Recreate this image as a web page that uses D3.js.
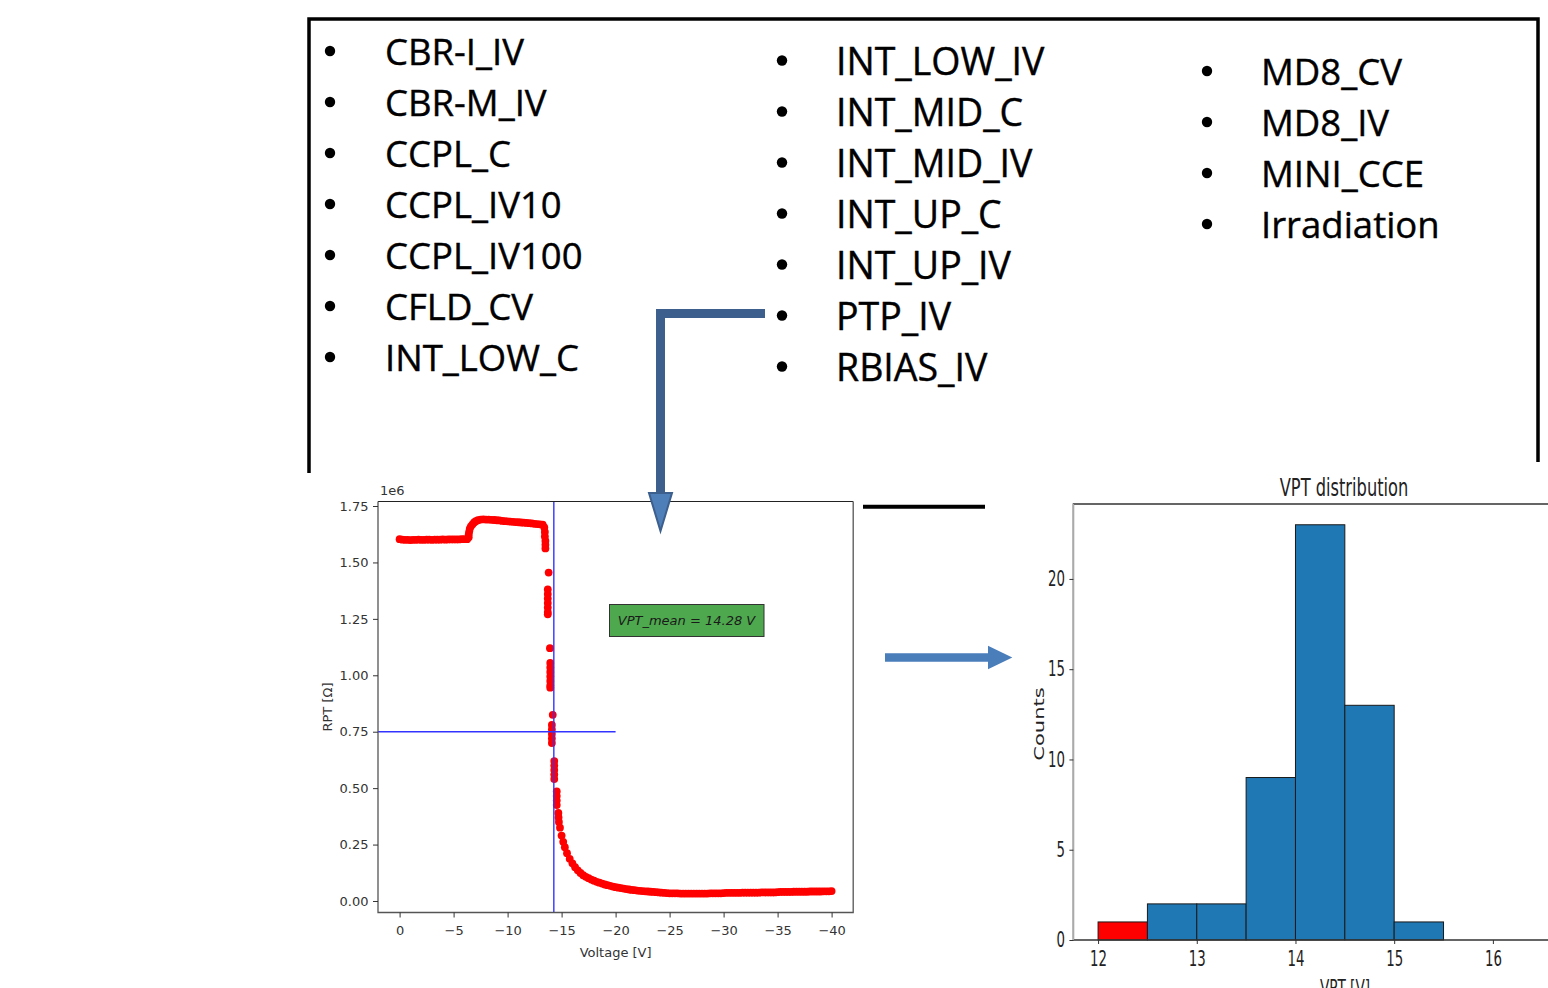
<!DOCTYPE html>
<html>
<head>
<meta charset="utf-8">
<script src="https://cdn.jsdelivr.net/npm/d3@7"></script>
<style>
  body { margin: 0; background: #fff; }
  svg { display: block; }
</style>
</head>
<body>
<svg id="slide" width="1548" height="988"></svg>
<script>
// test structures listed on the slide
const colLeft = ['CBR-I_IV', 'CBR-M_IV', 'CCPL_C', 'CCPL_IV10', 'CCPL_IV100', 'CFLD_CV', 'INT_LOW_C'];
const colMid = ['INT_LOW_IV', 'INT_MID_C', 'INT_MID_IV', 'INT_UP_C', 'INT_UP_IV', 'PTP_IV', 'RBIAS_IV'];
const colRight = ['MD8_CV', 'MD8_IV', 'MINI_CCE', 'Irradiation'];

// PTP_IV curve : [voltage V, RPT in 1e6 ohm]
const rptPoints = [
  [0, 1.603], [-0.25, 1.601], [-0.5, 1.600], [-0.75, 1.600], [-1, 1.599], [-1.25, 1.600], [-1.5, 1.600], [-1.75, 1.601],
  [-2, 1.600], [-2.25, 1.600], [-2.5, 1.601], [-2.75, 1.601], [-3, 1.600], [-3.25, 1.601], [-3.5, 1.601], [-3.75, 1.601],
  [-4, 1.602], [-4.25, 1.601], [-4.5, 1.602], [-4.75, 1.602], [-5, 1.602], [-5.25, 1.602], [-5.5, 1.602], [-5.75, 1.603],
  [-6, 1.603], [-6.25, 1.603],
  [-6.4, 1.612], [-6.4, 1.625], [-6.45, 1.638], [-6.5, 1.650], [-6.6, 1.660], [-6.75, 1.669], [-6.9, 1.677], [-7.05, 1.683],
  [-7.25, 1.687], [-7.5, 1.690], [-7.75, 1.691], [-8, 1.690],
  [-8.25, 1.690], [-8.5, 1.689], [-8.75, 1.688], [-9, 1.687], [-9.25, 1.686], [-9.5, 1.684], [-9.75, 1.683], [-10, 1.682],
  [-10.25, 1.681], [-10.5, 1.680], [-10.75, 1.679], [-11, 1.678], [-11.25, 1.677], [-11.5, 1.676], [-11.75, 1.675], [-12, 1.674],
  [-12.25, 1.673], [-12.5, 1.671], [-12.75, 1.670], [-13, 1.669], [-13.25, 1.667],
  [-13.4, 1.655], [-13.45, 1.635], [-13.45, 1.615], [-13.5, 1.595], [-13.5, 1.578], [-13.5, 1.562],
  [-13.8, 1.455],
  [-13.72, 1.38], [-13.72, 1.36], [-13.72, 1.34], [-13.72, 1.32], [-13.72, 1.30], [-13.72, 1.28], [-13.72, 1.27],
  [-13.92, 1.12],
  [-13.95, 1.055], [-13.95, 1.035], [-13.95, 1.015], [-13.95, 0.995], [-13.95, 0.975], [-13.95, 0.955], [-13.95, 0.945],
  [-14.18, 0.825],
  [-14.1, 0.78], [-14.1, 0.76], [-14.1, 0.74], [-14.1, 0.72], [-14.1, 0.70],
  [-14.32, 0.62], [-14.32, 0.60], [-14.32, 0.58], [-14.32, 0.56], [-14.32, 0.54],
  [-14.55, 0.485], [-14.55, 0.465], [-14.55, 0.445], [-14.55, 0.425],
  [-14.7, 0.39], [-14.72, 0.37], [-14.75, 0.35],
  [-14.85, 0.325], [-15, 0.29], [-15.15, 0.262], [-15.3, 0.238], [-15.5, 0.212], [-15.75, 0.187], [-16, 0.167], [-16.25, 0.150],
  [-16.5, 0.136], [-16.75, 0.124], [-17, 0.114], [-17.25, 0.107], [-17.5, 0.101], [-17.75, 0.095], [-18, 0.090], [-18.25, 0.085],
  [-18.5, 0.081], [-18.75, 0.077], [-19, 0.073], [-19.25, 0.070], [-19.5, 0.067], [-19.75, 0.064], [-20, 0.061], [-20.25, 0.059],
  [-20.5, 0.057], [-20.75, 0.055], [-21, 0.053], [-21.25, 0.051], [-21.5, 0.049], [-21.75, 0.048], [-22, 0.046], [-22.25, 0.045],
  [-22.5, 0.044], [-22.75, 0.043], [-23, 0.042], [-23.25, 0.041], [-23.5, 0.040], [-23.75, 0.039], [-24, 0.038], [-24.25, 0.037],
  [-24.5, 0.036], [-24.75, 0.035], [-25, 0.034], [-25.25, 0.034], [-25.5, 0.034], [-25.75, 0.034], [-26, 0.033], [-26.25, 0.033],
  [-26.5, 0.033], [-26.75, 0.033], [-27, 0.033], [-27.25, 0.033], [-27.5, 0.033], [-27.75, 0.033], [-28, 0.033], [-28.25, 0.033],
  [-28.5, 0.033], [-28.75, 0.034], [-29, 0.034], [-29.25, 0.034], [-29.5, 0.034], [-29.75, 0.034], [-30, 0.035], [-30.25, 0.036],
  [-30.5, 0.036], [-30.75, 0.036], [-31, 0.036], [-31.25, 0.036], [-31.5, 0.036], [-31.75, 0.037], [-32, 0.037], [-32.25, 0.037],
  [-32.5, 0.037], [-32.75, 0.037], [-33, 0.037], [-33.25, 0.037], [-33.5, 0.038], [-33.75, 0.038], [-34, 0.038], [-34.25, 0.038],
  [-34.5, 0.038], [-34.75, 0.038], [-35, 0.039], [-35.25, 0.040], [-35.5, 0.040], [-35.75, 0.040], [-36, 0.040], [-36.25, 0.040],
  [-36.5, 0.041], [-36.75, 0.041], [-37, 0.041], [-37.25, 0.041], [-37.5, 0.041], [-37.75, 0.041], [-38, 0.042], [-38.25, 0.042],
  [-38.5, 0.042], [-38.75, 0.042], [-39, 0.042], [-39.25, 0.043], [-39.5, 0.043], [-39.75, 0.043], [-40, 0.044]
];
const vptMean = -14.28;     // vertical marker
const rptMarker = 0.75;     // horizontal marker (1e6 ohm)
const rptMarkerEnd = -20;   // horizontal marker stops here
const voltTicks = [0, -5, -10, -15, -20, -25, -30, -35, -40];
const rptTicks = [0, 0.25, 0.5, 0.75, 1.0, 1.25, 1.5, 1.75];

// VPT histogram
const binEdges = [12, 12.5, 13, 13.5, 14, 14.5, 15, 15.5];
const binCounts = [1, 2, 2, 9, 23, 13, 1];
const vptLowLimit = 12.5;   // bins below this are flagged
const vptTicks = [12, 13, 14, 15, 16];
const countTicks = [0, 5, 10, 15, 20];

var svg = d3.select('#slide');
svg.append('rect').attr('width', 1548).attr('height', 988).attr('fill', '#fff');

///////////////////////////////////////////////////////////////
// box with the list
svg.append('path')
  .attr('d', 'M309,473 V19 H1538 V462')
  .attr('fill', 'none')
  .attr('stroke', '#000')
  .attr('stroke-width', 3.5);

var listCols = [
  { items: colLeft, bx: 330, tx: 385, base: 65, size: 36.5 },
  { items: colMid, bx: 782, tx: 836, base: 74.5, size: 37.5 },
  { items: colRight, bx: 1207, tx: 1261, base: 85, size: 36.5 }
];
var lineStep = 51;

listCols.forEach(function(c) {
  var g = svg.append('g');
  g.selectAll('circle')
    .data(c.items)
    .join('circle')
      .attr('cx', c.bx)
      .attr('cy', (d, i) => c.base + i * lineStep - 14)
      .attr('r', 5.2)
      .attr('fill', '#000');
  g.selectAll('text')
    .data(c.items)
    .join('text')
      .attr('x', c.tx)
      .attr('y', (d, i) => c.base + i * lineStep)
      .style('font-family', '"Open Sans", sans-serif')
      .style('font-size', c.size + 'px')
      .attr('fill', '#000')
      .attr('stroke', '#000')
      .attr('stroke-width', 0.4)
      .text(d => d);
});

///////////////////////////////////////////////////////////////
// RPT vs voltage
var sc = { left: 378, right: 853.2, top: 501.5, bottom: 912.5 };
var x = d3.scaleLinear().domain([2, -42]).range([sc.left, sc.right]);
var y = d3.scaleLinear().domain([-0.051, 1.770]).range([sc.bottom, sc.top]);
var smallFont = '"DejaVu Sans", sans-serif';

svg.append('rect')
  .attr('x', sc.left).attr('y', sc.top)
  .attr('width', sc.right - sc.left).attr('height', sc.bottom - sc.top)
  .attr('fill', '#fff');

svg.append('g')
  .selectAll('circle')
  .data(rptPoints)
  .join('circle')
    .attr('cx', d => x(d[0]))
    .attr('cy', d => y(d[1]))
    .attr('r', 3.9)
    .attr('fill', 'red');

// markers
svg.append('line')
  .attr('x1', x(vptMean)).attr('x2', x(vptMean))
  .attr('y1', sc.top).attr('y2', sc.bottom)
  .attr('stroke', '#3333ff').attr('stroke-width', 1.4);
svg.append('line')
  .attr('x1', sc.left).attr('x2', x(rptMarkerEnd))
  .attr('y1', y(rptMarker)).attr('y2', y(rptMarker))
  .attr('stroke', '#3333ff').attr('stroke-width', 1.4);

// frame
svg.append('path')
  .attr('d', `M${sc.left},${sc.top} H${sc.right}`)
  .attr('stroke', '#222').attr('stroke-width', 1.2);
svg.append('path')
  .attr('d', `M${sc.left},${sc.top} V${sc.bottom} H${sc.right} V${sc.top}`)
  .attr('fill', 'none').attr('stroke', '#555').attr('stroke-width', 1.3);

var xAx = svg.append('g')
  .attr('transform', 'translate(0,' + sc.bottom + ')')
  .call(d3.axisBottom(x).tickValues(voltTicks).tickSize(5).tickPadding(8).tickSizeOuter(0));
var yAx = svg.append('g')
  .attr('transform', 'translate(' + sc.left + ',0)')
  .call(d3.axisLeft(y).tickValues(rptTicks).tickFormat(d3.format('.2f')).tickSize(5).tickPadding(4.5).tickSizeOuter(0));
[xAx, yAx].forEach(function(a) {
  a.select('.domain').remove();
  a.selectAll('line').attr('stroke', '#333');
  a.selectAll('text')
    .style('font-family', smallFont)
    .style('font-size', '13px')
    .attr('fill', '#333');
});

svg.append('text')
  .attr('x', 380).attr('y', 495)
  .style('font-family', smallFont).style('font-size', '13px')
  .attr('fill', '#333')
  .text('1e6');

svg.append('text')
  .attr('x', (sc.left + sc.right) / 2).attr('y', 957)
  .attr('text-anchor', 'middle')
  .style('font-family', smallFont).style('font-size', '13px')
  .attr('fill', '#333')
  .text('Voltage [V]');

svg.append('text')
  .attr('transform', 'translate(332,' + ((sc.top + sc.bottom) / 2) + ') rotate(-90)')
  .attr('text-anchor', 'middle')
  .style('font-family', smallFont).style('font-size', '13px')
  .attr('fill', '#333')
  .text('RPT [\u03a9]');

// mean label
var lbl = svg.append('g').attr('transform', 'translate(609.5,604.5)');
lbl.append('rect')
  .attr('width', 154.5).attr('height', 32)
  .attr('fill', '#4ea84e').attr('stroke', '#333').attr('stroke-width', 1);
lbl.append('text')
  .attr('x', 77).attr('y', 20.5)
  .attr('text-anchor', 'middle')
  .style('font-family', smallFont).style('font-size', '13px').style('font-style', 'italic')
  .attr('fill', '#1a1a1a')
  .text('VPT_mean = ' + Math.abs(vptMean).toFixed(2) + ' V');

///////////////////////////////////////////////////////////////
// arrows
svg.append('path')
  .attr('d', 'M765,313.5 H660.5 V494')
  .attr('fill', 'none')
  .attr('stroke', '#3c5f8e')
  .attr('stroke-width', 9);
svg.append('path')
  .attr('d', 'M649,493 L672,493 L660.5,531 Z')
  .attr('fill', '#4f7fb8')
  .attr('stroke', '#3c5f8e')
  .attr('stroke-width', 2);

svg.append('path')
  .attr('d', 'M885,653.3 H988 V645.7 L1012.3,657.5 L988,669.3 V661.7 H885 Z')
  .attr('fill', '#4a7ebb');

svg.append('line')
  .attr('x1', 863).attr('x2', 985)
  .attr('y1', 506.7).attr('y2', 506.7)
  .attr('stroke', '#000').attr('stroke-width', 4);

///////////////////////////////////////////////////////////////
// histogram (image was squeezed horizontally on the slide)
var SQ = 0.65;
var hLeft = 1073.4, hTop = 504, hBottom = 940;
var hx = d3.scaleLinear().domain([11.75, 16.75]).range([hLeft, hLeft + 5 * 98.7]);
var hy = d3.scaleLinear().domain([0, 24.15]).range([hBottom, hTop]);
var bins = binCounts.map((c, i) => ({ x0: binEdges[i], x1: binEdges[i + 1], count: c }));

svg.append('g')
  .selectAll('rect')
  .data(bins)
  .join('rect')
    .attr('x', d => hx(d.x0))
    .attr('y', d => hy(d.count))
    .attr('width', d => hx(d.x1) - hx(d.x0))
    .attr('height', d => hy(0) - hy(d.count))
    .attr('fill', d => d.x1 <= vptLowLimit ? '#ff0000' : '#1f77b4')
    .attr('stroke', '#1a1a1a')
    .attr('stroke-width', 1);

svg.append('path')
  .attr('d', `M1548,${hTop} H${hLeft} V${hBottom} H1548`)
  .attr('fill', 'none').attr('stroke', '#333').attr('stroke-width', 1.4);
svg.append('path')
  .attr('d', `M${hLeft},${hTop} V${hBottom}`)
  .attr('stroke', '#aaa').attr('stroke-width', 1.4);

var hxAx = svg.append('g')
  .attr('transform', 'translate(0,' + hBottom + ')')
  .call(d3.axisBottom(hx).tickValues(vptTicks).tickFormat(d3.format('d')).tickSize(4).tickPadding(7).tickSizeOuter(0));
var hyAx = svg.append('g')
  .attr('transform', 'translate(' + hLeft + ',0)')
  .call(d3.axisLeft(hy).tickValues(countTicks).tickFormat(d3.format('d')).tickSize(4).tickSizeOuter(0));
[hxAx, hyAx].forEach(function(a) {
  a.select('.domain').remove();
  a.selectAll('line').attr('stroke', '#333');
  a.selectAll('text')
    .style('font-family', smallFont)
    .style('font-size', '20.5px')
    .attr('fill', '#222')
    .attr('transform', 'scale(' + SQ + ',1)');
});
hyAx.selectAll('text').attr('x', -8.5 / SQ);

svg.append('text')
  .attr('transform', 'translate(1344,496) scale(' + SQ + ',1)')
  .attr('text-anchor', 'middle')
  .style('font-family', smallFont).style('font-size', '25px')
  .attr('fill', '#222')
  .text('VPT distribution');

svg.append('text')
  .attr('transform', 'translate(1044,724) scale(' + SQ + ',1) rotate(-90)')
  .attr('text-anchor', 'middle')
  .style('font-family', smallFont).style('font-size', '21px')
  .attr('fill', '#222')
  .text('Counts');

svg.append('text')
  .attr('transform', 'translate(1345,995) scale(' + SQ + ',1)')
  .attr('text-anchor', 'middle')
  .style('font-family', smallFont).style('font-size', '21px')
  .attr('fill', '#222')
  .text('VPT [V]');
</script>
</body>
</html>
